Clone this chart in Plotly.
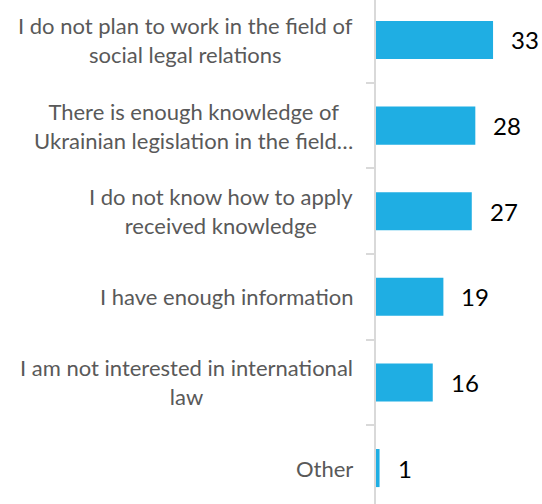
import plotly.graph_objects as go

categories = [
    "I do not plan to work in the field of<br>social legal relations",
    "There is enough knowledge of<br>Ukrainian legislation in the field…",
    "I do not know how to apply<br>received knowledge",
    "I have enough information",
    "I am not interested in international<br>law",
    "Other",
]
values = [33, 28, 27, 19, 16, 1]

bar_color = "#1FAEE3"
label_color = "#595959"
axis_color = "#D9D9D9"

fig = go.Figure()
fig.add_trace(go.Bar(
    x=values,
    y=list(range(len(categories))),
    orientation="h",
    marker=dict(color=bar_color, line=dict(width=0)),
    hoverinfo="skip",
))

annotations = []
for i, (cat, v) in enumerate(zip(categories, values)):
    annotations.append(dict(
        x=0, xref="paper", y=i, yref="y",
        text=cat, showarrow=False, xanchor="right", yanchor="middle",
        align="center", xshift=-21,
        font=dict(family="Lato", size=22, color=label_color),
    ))
    annotations.append(dict(
        x=v, xref="x", y=i, yref="y",
        text=str(v), showarrow=False, xanchor="left", yanchor="middle",
        xshift=16,
        font=dict(family="Lato", size=24, color="#000000"),
    ))

fig.update_layout(
    width=542, height=504,
    margin=dict(l=376, r=0, t=0, b=0),
    paper_bgcolor="white", plot_bgcolor="white",
    bargap=0.555,
    showlegend=False,
    annotations=annotations,
    xaxis=dict(range=[0, 46.8], visible=False, fixedrange=True),
    yaxis=dict(
        range=[5.42, -0.467],
        tickmode="array",
        tickvals=[i + 0.5 for i in range(-1, len(categories))],
        ticktext=["" for _ in range(len(categories) + 1)],
        ticks="outside", ticklen=8, tickcolor=axis_color, tickwidth=1.5,
        showline=True, linecolor=axis_color, linewidth=2,
        showgrid=False, zeroline=False, fixedrange=True,
    ),
)

fig.write_html(
    "out.html",
    config={"displayModeBar": False},
    post_script="document.body.style.margin='0';document.body.style.overflow='hidden';",
)
